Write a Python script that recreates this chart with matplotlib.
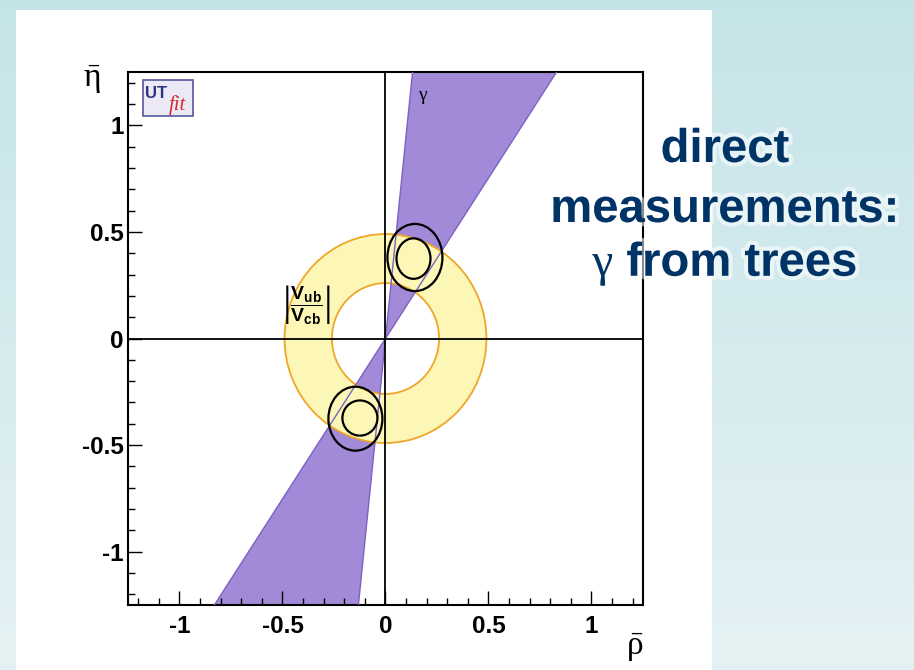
import matplotlib.pyplot as plt
import numpy as np
from matplotlib.patches import Annulus, Ellipse, Polygon, Rectangle
from matplotlib.ticker import MultipleLocator
import matplotlib.patheffects as pe

plt.rcParams['mathtext.fontset'] = 'custom'
plt.rcParams['mathtext.rm'] = 'Liberation Serif'
plt.rcParams['mathtext.it'] = 'Liberation Serif:italic'
plt.rcParams['mathtext.bf'] = 'Liberation Sans:bold'

# gamma from tree-level decays (degrees), band edges
gamma_lo = 56.4
gamma_hi = 84.0

# |Vub/Vcb| ring (radii in the rho-eta plane)
ring_inner = 0.26
ring_outer = 0.49

# 68% / 95% probability regions: centre x, centre y, width, height
contour_x = [0.136, 0.143, -0.124, -0.146]
contour_y = [0.375, 0.380, -0.373, -0.376]
contour_w = [0.165, 0.267, 0.170, 0.262]
contour_h = [0.190, 0.315, 0.165, 0.300]

ticks = [-1, -0.5, 0, 0.5, 1]
tick_labels = ['-1', '-0.5', '0', '0.5', '1']

fig = plt.figure(figsize=(9.14, 6.70), dpi=100)

# slide background
bg = fig.add_axes([0, 0, 1, 1], zorder=-10)
grad = np.linspace(0, 1, 256).reshape(-1, 1)
top = np.array([0.772, 0.894, 0.910])
bot = np.array([0.898, 0.949, 0.957])
img = top + (bot - top) * grad[:, :, None]
bg.imshow(img, aspect='auto', extent=[0, 1, 0, 1])
bg.add_patch(Rectangle((16 / 914, 0), (712 - 16) / 914, 660 / 670,
                       facecolor='white', edgecolor='none'))
bg.set_xlim(0, 1)
bg.set_ylim(0, 1)
bg.axis('off')

ax = fig.add_axes([0.140, 0.097, 0.5635, 0.7955])
ax.set_facecolor('none')
ax.set_xlim(-1.25, 1.25)
ax.set_ylim(-1.25, 1.25)

# gamma wedge (both branches through the origin)
R = 4.0
lo, hi = np.radians(gamma_lo), np.radians(gamma_hi)
for s in (1, -1):
    pts = [(0, 0), (s * R * np.cos(lo), s * R * np.sin(lo)),
           (s * R * np.cos(hi), s * R * np.sin(hi))]
    ax.add_patch(Polygon(pts, closed=True, facecolor='#a28ad8',
                         edgecolor='none', zorder=1))

# |Vub/Vcb| ring
ax.add_patch(Annulus((0, 0), ring_outer, ring_outer - ring_inner,
                     facecolor='#fcf7b6', edgecolor='none', zorder=2))
for r in (ring_inner, ring_outer):
    ax.add_patch(Ellipse((0, 0), 2 * r, 2 * r, facecolor='none',
                         edgecolor='#f0a628', lw=1.3, zorder=3))

# wedge edges
for ang in (lo, hi):
    ax.plot([-R * np.cos(ang), R * np.cos(ang)],
            [-R * np.sin(ang), R * np.sin(ang)],
            color='#7c62c2', lw=1.0, zorder=3)

# probability contours
for cx, cy, w, h in zip(contour_x, contour_y, contour_w, contour_h):
    ax.add_patch(Ellipse((cx, cy), w, h, facecolor='none',
                         edgecolor='black', lw=1.6, zorder=4))

ax.axhline(0, color='black', lw=1.3, zorder=5)
ax.axvline(0, color='black', lw=1.3, zorder=5)

ax.text(0.184, 1.136, r'$\mathrm{\gamma}$', fontsize=14,
        ha='center', va='center', zorder=6)
ax.text(-0.383, 0.16,
        r'$\left|\dfrac{\mathbf{V}_{\mathbf{ub}}}{\mathbf{V}_{\mathbf{cb}}}\right|$',
        fontsize=14, ha='center', va='center', zorder=6)

# UTfit logo
ax.add_patch(Rectangle((0.029, 0.917), 0.097, 0.068, transform=ax.transAxes,
                       facecolor='#ebe9f6', edgecolor='#55589a',
                       lw=1.2, zorder=6))
ax.text(0.034, 0.960, 'UT', transform=ax.transAxes, fontsize=12,
        fontweight='bold', color='#2e3580', family='Liberation Sans',
        va='center', ha='left', zorder=7)
ax.text(0.080, 0.938, 'fit', transform=ax.transAxes, fontsize=15,
        style='italic', color='#d42a2a', family='Liberation Serif',
        va='center', ha='left', zorder=7)

# axes styling
ax.set_xticks(ticks)
ax.set_xticklabels(tick_labels)
ax.set_yticks(ticks)
ax.set_yticklabels(tick_labels)
ax.xaxis.set_minor_locator(MultipleLocator(0.1))
ax.yaxis.set_minor_locator(MultipleLocator(0.1))
ax.tick_params(which='both', direction='in', top=False, right=False,
               width=1.0, color='black')
ax.tick_params(which='major', length=10)
ax.tick_params(which='minor', length=5)
ax.tick_params(axis='x', which='major', pad=7)
ax.tick_params(axis='y', which='major', pad=3)
for lab in ax.get_xticklabels() + ax.get_yticklabels():
    lab.set_family('Liberation Sans')
    lab.set_fontweight('bold')
    lab.set_fontsize(17.5)
for sp in ax.spines.values():
    sp.set_linewidth(1.5)

fig.text(92 / 914, 1 - 80 / 670, r'$\mathrm{\bar{\eta}}$', fontsize=24,
         ha='center', va='center')
fig.text(643 / 914, 1 - 648 / 670, r'$\mathrm{\bar{\rho}}$', fontsize=24,
         ha='right', va='center')

# slide annotation
glow = [pe.withStroke(linewidth=6, foreground='white', alpha=0.55)]
lines = ['direct', 'measurements:', r'$\mathrm{\gamma}$ from trees']
baselines = [162, 222, 276]
for txt, yb in zip(lines, baselines):
    fig.text(725 / 914, 1 - yb / 670, txt, fontsize=34, fontweight='bold',
             family='Liberation Sans', color='#003366', ha='center',
             va='baseline', zorder=10, path_effects=glow)

fig.savefig('out.png', dpi=100)
